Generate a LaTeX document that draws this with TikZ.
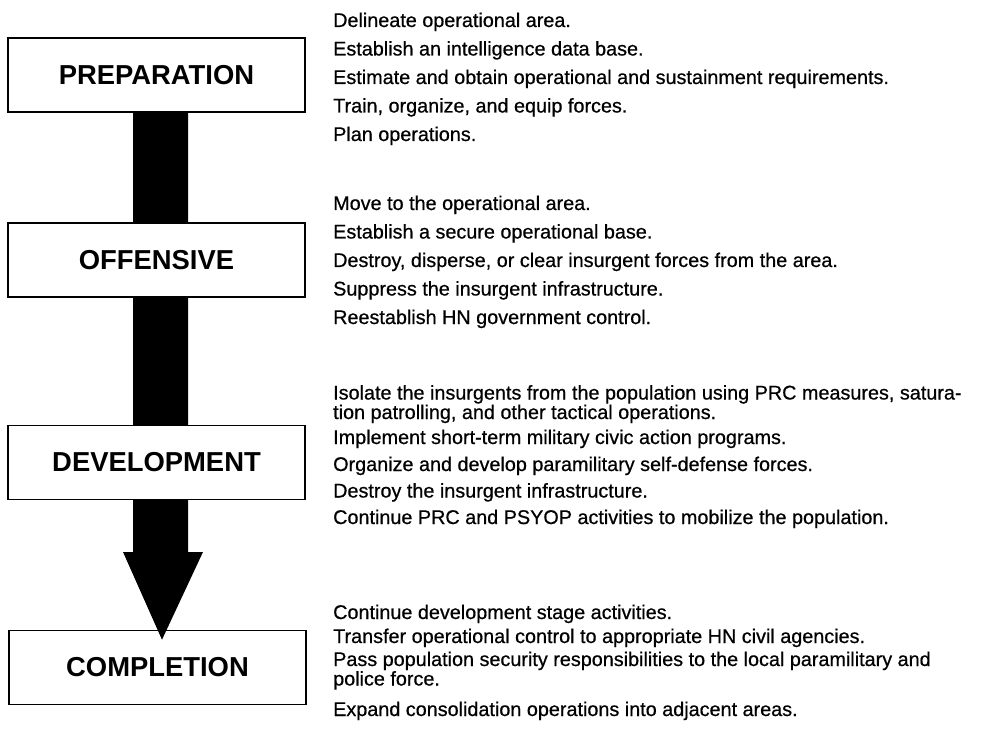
\documentclass[tikz,border=0pt]{standalone}
\usepackage{fontspec}
\setmainfont{Liberation Sans}
\newfontfamily\bodyfont{Liberation Sans}[FakeBold=0.6]
\begin{document}
\begin{tikzpicture}[x=1pt,y=-1pt,
  stage/.style={draw, line width=1.6pt, fill=white, minimum width=297pt, minimum height=74pt, inner sep=0pt,
    font=\fontsize{27.4}{30}\selectfont\bfseries},
  item/.style={anchor=base west, inner sep=0pt, font=\bodyfont\fontsize{19.8}{20}\selectfont}]
\useasboundingbox (0,0) rectangle (985,735);
% last stage box first (arrow tip lies over it)
\node[stage] (compl) at (157.5,667.5) {COMPLETION};
% big arrow
\coordinate (ashaft) at (160.5,100);
\coordinate (atip) at ([xshift=4.5pt,yshift=-10pt]compl.north);
\fill[black] ([xshift=-27.5pt]ashaft) -- ([xshift=27.5pt]ashaft) -- (188,552) -- (203,552) -- (atip) -- (123,552) -- (133,552) -- cycle;
% other stage boxes
\node[stage] (prep) at (156.5,75) {PREPARATION};
\node[stage] (off) at (156.5,260) {OFFENSIVE};
\node[stage] (dev) at (156.5,462.5) {DEVELOPMENT};
% group 1
\foreach \yy/\tx [count=\i] in {27/{Delineate operational area.},
  55.5/{Establish an intelligence data base.},
  84/{Estimate and obtain operational and sustainment requirements.},
  112.5/{Train, organize, and equip forces.},
  141/{Plan operations.}}
  \node[item] (ga\i) at (333,\yy) {\tx};
% group 2
\foreach \yy/\tx [count=\i] in {210/{Move to the operational area.},
  238.5/{Establish a secure operational base.},
  267/{Destroy, disperse, or clear insurgent forces from the area.},
  295.5/{Suppress the insurgent infrastructure.},
  324/{Reestablish HN government control.}}
  \node[item] (gb\i) at (333,\yy) {\tx};
% group 3
\foreach \yy/\tx [count=\i] in {399.5/{Isolate the insurgents from the population using PRC measures, satura-},
  419/{tion patrolling, and other tactical operations.},
  444/{Implement short-term military civic action programs.},
  471/{Organize and develop paramilitary self-defense forces.},
  497.5/{Destroy the insurgent infrastructure.},
  524/{Continue PRC and PSYOP activities to mobilize the population.}}
  \node[item] (gc\i) at (333,\yy) {\tx};
% group 4
\foreach \yy/\tx [count=\i] in {619/{Continue development stage activities.},
  643/{Transfer operational control to appropriate HN civil agencies.},
  666/{Pass population security responsibilities to the local paramilitary and},
  685.5/{police force.},
  716/{Expand consolidation operations into adjacent areas.}}
  \node[item] (gd\i) at (333,\yy) {\tx};
\end{tikzpicture}
\end{document}
